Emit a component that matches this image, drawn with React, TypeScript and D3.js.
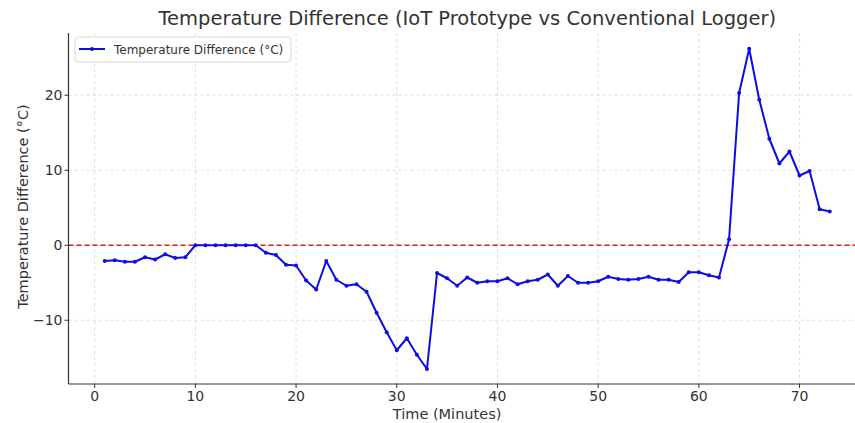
import React, { useEffect, useRef } from 'react'
import * as d3 from 'd3'

// minutes 1..73
const minutes = d3.range(1, 74)

// temperature difference (°C)
const tempDiff = [
  -2.1, -2.0, -2.2, -2.2, -1.6, -1.9, -1.2, -1.7, -1.6, 0.0,
  0.0, 0.0, 0.0, 0.0, 0.0, 0.0, -1.0, -1.3, -2.6, -2.7,
  -4.7, -5.9, -2.1, -4.6, -5.4, -5.2, -6.2, -9.0, -11.6, -14.0,
  -12.4, -14.6, -16.5, -3.7, -4.4, -5.4, -4.3, -5.0, -4.8, -4.8,
  -4.4, -5.2, -4.8, -4.6, -3.9, -5.4, -4.1, -5.0, -5.0, -4.8,
  -4.2, -4.5, -4.6, -4.5, -4.2, -4.6, -4.6, -4.9, -3.6, -3.6,
  -4.0, -4.3, 0.8, 20.3, 26.2, 19.4, 14.2, 10.9, 12.5, 9.3,
  9.9, 4.8, 4.5,
]

const xTicks = [0, 10, 20, 30, 40, 50, 60, 70]
const yTicks = [-10, 0, 10, 20]

const title = 'Temperature Difference (IoT Prototype vs Conventional Logger)'
const xLabel = 'Time (Minutes)'
const yLabel = 'Temperature Difference (°C)'
const legendLabel = 'Temperature Difference (°C)'

const App = () => {
  const ref = useRef<SVGSVGElement>(null)

  useEffect(() => {
    document.body.style.margin = '0'
    if (!ref.current) return
    const svg = d3.select(ref.current)
    svg.selectAll('*').remove()

    const width = 855
    const height = 423
    const left = 68.5
    const right = 866
    const top = 33
    const bottom = 384

    const font = '"DejaVu Sans", sans-serif'

    const x = d3.scaleLinear().domain([-2.6, 76.6]).range([left, right])
    const y = d3.scaleLinear().domain([-18.5, 28.3]).range([bottom, top])

    svg.attr('width', width).attr('height', height).style('background', '#fff')

    const clip = svg.append('clipPath').attr('id', 'plot-clip')
    clip.append('rect').attr('x', left).attr('y', top).attr('width', right - left).attr('height', bottom - top)

    // grid
    const grid = svg.append('g')
    xTicks.forEach((t) => {
      grid.append('line')
        .attr('x1', x(t)).attr('x2', x(t)).attr('y1', top).attr('y2', bottom)
        .attr('stroke', '#d4d4d4').attr('stroke-width', 0.8).attr('stroke-dasharray', '3,3')
    })
    yTicks.forEach((t) => {
      grid.append('line')
        .attr('x1', left).attr('x2', right).attr('y1', y(t)).attr('y2', y(t))
        .attr('stroke', '#d4d4d4').attr('stroke-width', 0.8).attr('stroke-dasharray', '3,3')
    })

    // zero reference line
    svg.append('line')
      .attr('x1', left).attr('x2', right).attr('y1', y(0)).attr('y2', y(0))
      .attr('stroke', '#e02020').attr('stroke-width', 1.3).attr('stroke-dasharray', '5,3')

    const points = minutes.map((m, i) => [m, tempDiff[i]] as [number, number])
    const line = d3.line<[number, number]>().x((d) => x(d[0])).y((d) => y(d[1]))

    const plot = svg.append('g').attr('clip-path', 'url(#plot-clip)')
    plot.append('path')
      .attr('d', line(points))
      .attr('fill', 'none').attr('stroke', '#0c0ce6').attr('stroke-width', 2).attr('stroke-linejoin', 'round')
    plot.selectAll('circle.pt').data(points).enter().append('circle')
      .attr('class', 'pt')
      .attr('cx', (d) => x(d[0])).attr('cy', (d) => y(d[1])).attr('r', 2)
      .attr('fill', '#0c0ce6')

    // spines
    svg.append('line').attr('x1', left).attr('x2', left).attr('y1', top).attr('y2', bottom)
      .attr('stroke', '#333').attr('stroke-width', 1.2)
    svg.append('line').attr('x1', left).attr('x2', right).attr('y1', bottom).attr('y2', bottom)
      .attr('stroke', '#333').attr('stroke-width', 1.2)

    // x ticks
    xTicks.forEach((t) => {
      svg.append('line').attr('x1', x(t)).attr('x2', x(t)).attr('y1', bottom).attr('y2', bottom + 4)
        .attr('stroke', '#333').attr('stroke-width', 1)
      svg.append('text').attr('x', x(t)).attr('y', bottom + 17)
        .attr('text-anchor', 'middle').attr('fill', '#333')
        .style('font-family', font).style('font-size', '14px')
        .text(String(t))
    })
    // y ticks
    yTicks.forEach((t) => {
      svg.append('line').attr('x1', left - 4).attr('x2', left).attr('y1', y(t)).attr('y2', y(t))
        .attr('stroke', '#333').attr('stroke-width', 1)
      svg.append('text').attr('x', left - 6).attr('y', y(t) + 5)
        .attr('text-anchor', 'end').attr('fill', '#333')
        .style('font-family', font).style('font-size', '14px')
        .text(t < 0 ? `\u2212${Math.abs(t)}` : String(t))
    })

    // axis labels
    svg.append('text').attr('x', x(35)).attr('y', 419)
      .attr('text-anchor', 'middle').attr('fill', '#333')
      .style('font-family', font).style('font-size', '14.5px')
      .text(xLabel)
    svg.append('text')
      .attr('transform', `translate(28,${(top + bottom) / 2 - 2}) rotate(-90)`)
      .attr('text-anchor', 'middle').attr('fill', '#333')
      .style('font-family', font).style('font-size', '14.5px')
      .text(yLabel)

    // title
    svg.append('text').attr('x', (left + right) / 2).attr('y', 25)
      .attr('text-anchor', 'middle').attr('fill', '#333')
      .style('font-family', font).style('font-size', '19.5px')
      .text(title)

    // legend
    const lg = svg.append('g')
    lg.append('rect').attr('x', 75).attr('y', 37).attr('width', 216).attr('height', 25).attr('rx', 3)
      .attr('fill', '#fff').attr('fill-opacity', 0.85).attr('stroke', '#d8d8d8').attr('stroke-width', 1)
    lg.append('line').attr('x1', 79).attr('x2', 105).attr('y1', 49).attr('y2', 49)
      .attr('stroke', '#0c0ce6').attr('stroke-width', 2)
    lg.append('circle').attr('cx', 92).attr('cy', 49).attr('r', 2).attr('fill', '#0c0ce6')
    lg.append('text').attr('x', 114).attr('y', 53.5).attr('fill', '#333')
      .style('font-family', font).style('font-size', '12px')
      .text(legendLabel)
  }, [])

  return <svg ref={ref} width={855} height={423} style={{ display: 'block' }} />
}

export default App
